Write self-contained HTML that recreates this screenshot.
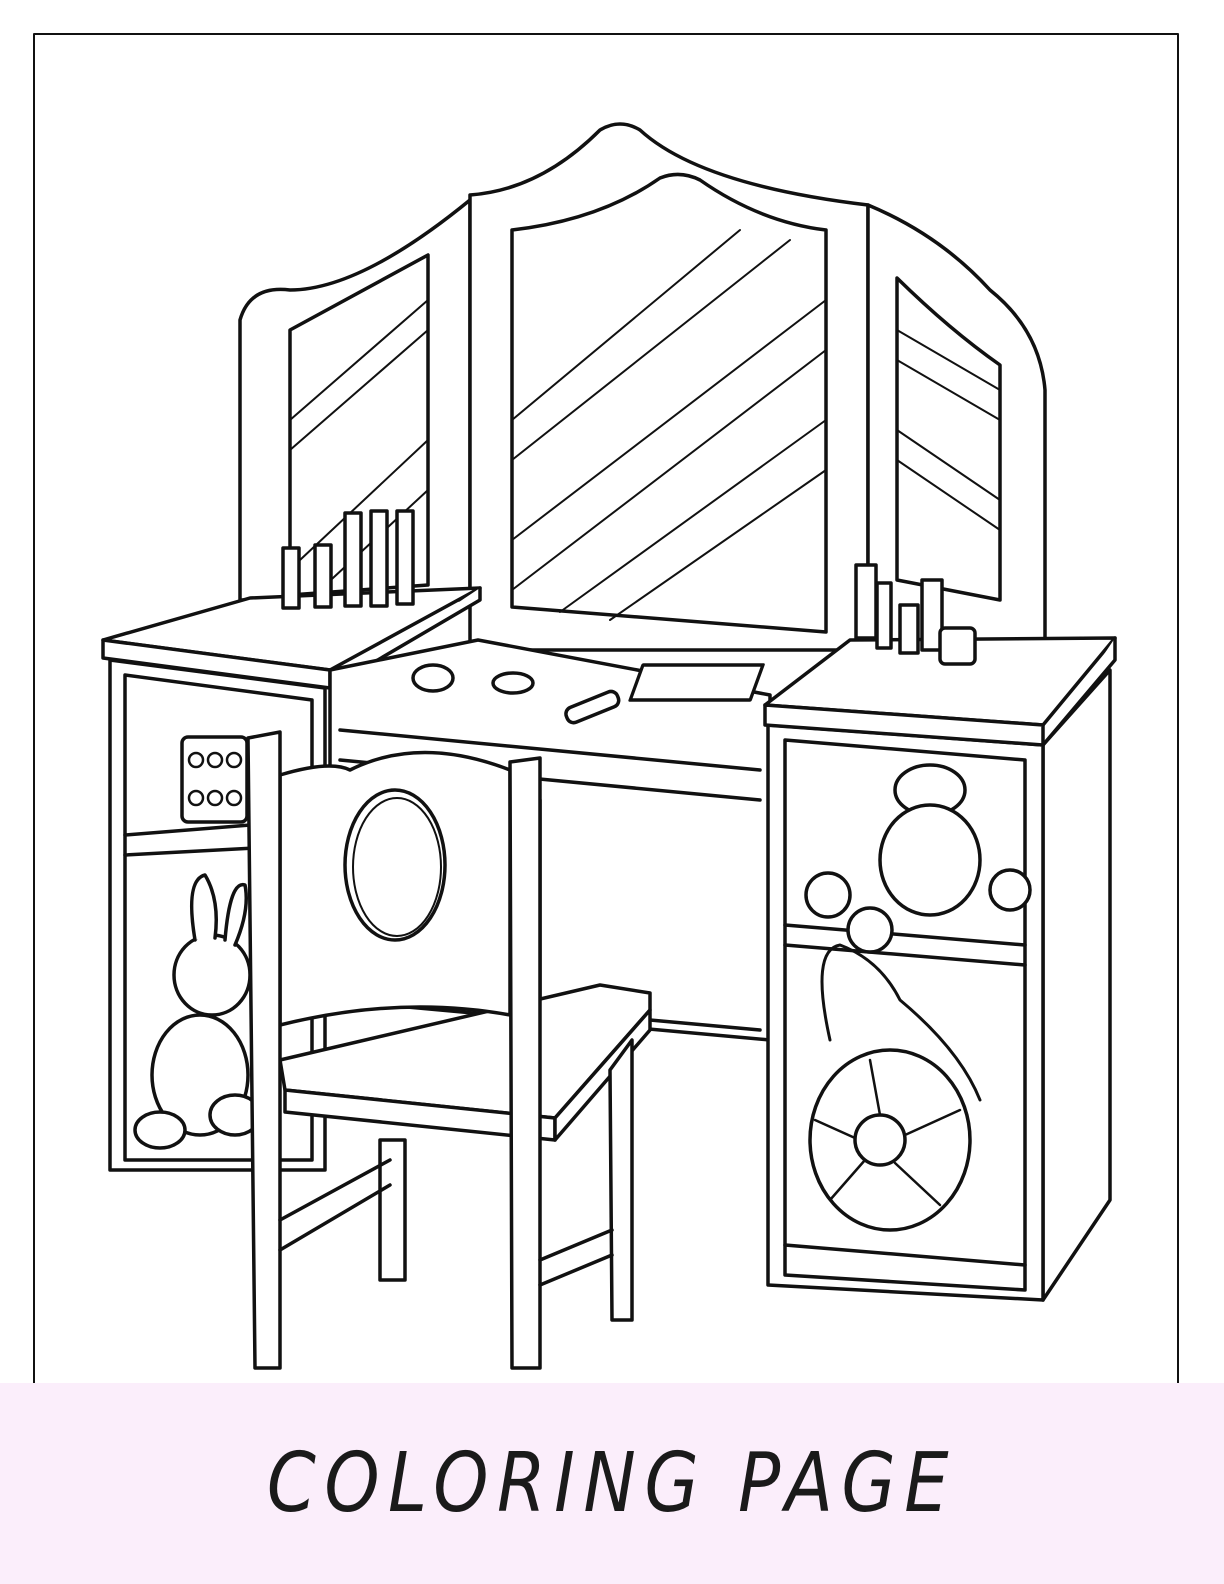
<!DOCTYPE html>
<html><head><meta charset="utf-8"><style>
html,body{margin:0;padding:0;background:#fff}
body{width:1224px;height:1584px;position:relative;overflow:hidden}
svg{position:absolute;left:0;top:0}
.t{position:absolute;left:0;width:1224px;top:1436px;text-align:center;font-family:"DejaVu Sans Condensed","Liberation Sans Narrow","Liberation Sans",sans-serif;font-weight:200;font-style:italic;font-size:82px;letter-spacing:9px;color:#1a1a1a;transform:scaleX(0.95)}
</style></head><body>
<svg width="1224" height="1584" viewBox="0 0 1224 1584" fill="#fff" stroke="#111" stroke-width="3.5" stroke-linejoin="round" stroke-linecap="round">
<rect x="34" y="34" width="1144" height="1400" fill="none" stroke-width="2"/>
<path d="M240,600 L240,320 Q250,285 290,290 Q360,290 470,200 L470,600 Z"/>
<path d="M290,330 L428,255 L428,585 L290,595 Z"/>
<path d="M470,195 Q540,190 600,130 Q620,118 640,130 Q700,185 868,205 L868,650 L470,650 Z"/>
<path d="M512,230 Q600,220 660,178 Q680,170 700,180 Q760,222 826,230 L826,632 L512,607 Z"/>
<path d="M868,205 Q940,235 990,290 Q1040,330 1045,390 L1045,665 L868,640 Z"/>
<path d="M897,278 Q950,330 1000,365 L1000,600 L897,580 Z"/>
<g fill="none" stroke-width="2">
<path d="M290,420 L428,300 M290,450 L428,330 M300,560 L428,440 M320,590 L428,490"/>
<path d="M512,420 L740,230 M512,460 L790,240 M512,540 L826,300 M512,590 L826,350 M560,612 L826,420 M610,620 L826,470"/>
<path d="M897,330 L1000,390 M897,360 L1000,420 M897,430 L1000,500 M897,460 L1000,530"/>
</g>
<path d="M110,660 L110,1170 L325,1170 L325,688 Z"/>
<path d="M125,675 L125,1160 L312,1160 L312,700 Z"/>
<path d="M125,855 L312,845 M125,835 L312,820" fill="none"/>
<path d="M103,640 L250,598 L480,588 L330,670 Z"/>
<path d="M103,640 L103,658 L330,688 L330,670 Z"/>
<path d="M330,688 L480,600 L480,588"/>
<path d="M330,670 L478,640 L770,695 L770,1040 L330,1000 Z"/>
<path d="M340,730 L760,770 M340,760 L760,800 M540,800 L540,1000" fill="none"/>
<path d="M650,1020 L760,1030" fill="none"/>
<path d="M1043,745 L1110,670 L1110,1200 L1043,1300 Z"/>
<path d="M768,725 L1043,745 L1043,1300 L768,1285 Z"/>
<path d="M785,740 L1025,760 L1025,1290 L785,1275 Z"/>
<path d="M785,925 L1025,945 M785,945 L1025,965 M785,1245 L1025,1265" fill="none"/>
<path d="M765,705 L850,640 L1115,638 L1043,725 Z"/>
<path d="M765,705 L765,725 L1043,745 L1043,725 Z"/>
<path d="M1043,745 L1115,660 L1115,638"/>
<rect x="645" y="665" width="120" height="35" transform="skewX(-20) translate(240,0)"/>
<ellipse cx="433" cy="678" rx="20" ry="13"/><ellipse cx="513" cy="683" rx="20" ry="10"/>
<rect x="565" y="700" width="55" height="16" rx="7" transform="rotate(-22 590 708)"/>
<rect x="283" y="548" width="16" height="60"/><rect x="315" y="545" width="16" height="62"/>
<rect x="345" y="513" width="16" height="93"/><rect x="371" y="511" width="16" height="95"/><rect x="397" y="511" width="16" height="93"/>
<rect x="856" y="565" width="20" height="73"/><rect x="877" y="583" width="14" height="65"/><rect x="900" y="605" width="18" height="48"/>
<rect x="922" y="580" width="20" height="70"/><rect x="940" y="628" width="35" height="36" rx="5"/>
<rect x="182" y="737" width="65" height="85" rx="6"/>
<g fill="none" stroke-width="2.5"><circle cx="196" cy="760" r="7"/><circle cx="215" cy="760" r="7"/><circle cx="234" cy="760" r="7"/><circle cx="196" cy="798" r="7"/><circle cx="215" cy="798" r="7"/><circle cx="234" cy="798" r="7"/></g>
<ellipse cx="212" cy="975" rx="38" ry="40"/><ellipse cx="200" cy="1075" rx="48" ry="60"/>
<ellipse cx="160" cy="1130" rx="25" ry="18"/><ellipse cx="235" cy="1115" rx="25" ry="20"/>
<path d="M195,940 Q185,880 205,875 Q220,900 215,938 M225,940 Q230,880 245,885 Q250,910 235,945"/>
<ellipse cx="930" cy="790" rx="35" ry="25"/><ellipse cx="930" cy="860" rx="50" ry="55"/>
<circle cx="828" cy="895" r="22"/><circle cx="870" cy="930" r="22"/><circle cx="1010" cy="890" r="20"/>
<path d="M830,1040 Q810,950 840,945 Q880,960 900,1000 Q960,1050 980,1100" fill="none" stroke-width="3"/>
<ellipse cx="890" cy="1140" rx="80" ry="90"/><circle cx="880" cy="1140" r="25"/>
<g fill="none" stroke-width="2.5"><path d="M880,1115 L870,1060 M905,1135 L960,1110 M895,1163 L940,1205 M865,1160 L830,1200 M855,1138 L815,1120"/></g>
<path d="M280,1060 L600,985 L650,993 L650,1010 L555,1118 L285,1090 Z"/>
<path d="M285,1090 L555,1118 L555,1140 L285,1112 Z"/>
<path d="M555,1118 L650,1010 L650,1030 L555,1140 Z"/>
<path d="M280,775 Q330,760 350,770 Q420,735 510,770 L510,1015 Q400,995 280,1025 Z"/>
<ellipse cx="395" cy="865" rx="50" ry="75"/><ellipse cx="397" cy="867" rx="44" ry="69" fill="none" stroke-width="2"/>
<path d="M248,738 L280,732 L280,1368 L255,1368 Z"/>
<path d="M510,762 L540,758 L540,1368 L512,1368 Z"/>
<path d="M380,1140 L405,1140 L405,1280 L380,1280 Z"/>
<path d="M610,1070 L632,1040 L632,1320 L612,1320 Z"/>
<path d="M280,1220 L390,1160 M280,1250 L390,1185 M540,1260 L612,1230 M540,1285 L612,1255" fill="none"/>
<rect x="0" y="1383" width="1224" height="201" fill="#fbeefb" stroke="none"/>
</svg>
<div class="t">COLORING PAGE</div>
</body></html>
